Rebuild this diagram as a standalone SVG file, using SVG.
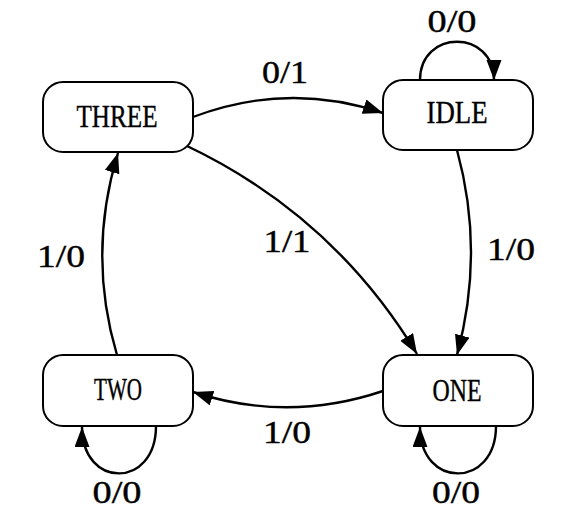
<svg xmlns="http://www.w3.org/2000/svg" width="569" height="518" viewBox="0 0 569 518">
<defs>
<style>
.node rect{fill:#fff;stroke:#000;stroke-width:2}
.edges path{fill:none;stroke:#000;stroke-width:2.4;marker-end:url(#arr)}
</style>
<marker id="arr" markerUnits="userSpaceOnUse" markerWidth="22" markerHeight="16" refX="20" refY="7.5" orient="auto">
<path d="M0,0 L20,7.5 L0,15 z" fill="#000"/>
</marker>
</defs>
<rect width="569" height="518" fill="#fff"/>
<g class="edges" id="edges">
<path d="M193,117 Q288,81 383,113"/>
<path d="M185,145 Q333,215 417,354"/>
<path d="M457,150 Q485,252 457,355"/>
<path d="M383,391 Q288,423 193,392"/>
<path d="M117,355 Q87,254 118,153"/>
<path d="M420,80 C420,29 494,29 494,80"/>
<path d="M156,426 C156,489 82,489 82,427"/>
<path d="M496,426 C496,489 420,489 420,427"/>
</g>
<g id="labels" font-family="'Liberation Serif', 'Times New Roman', serif" font-size="31" fill="#000" stroke="#000" stroke-width="0.4" text-anchor="middle">
<text x="285" y="83" textLength="46" lengthAdjust="spacingAndGlyphs">0/1</text>
<text x="287" y="252" textLength="47" lengthAdjust="spacingAndGlyphs">1/1</text>
<text x="511" y="260" textLength="48" lengthAdjust="spacingAndGlyphs">1/0</text>
<text x="61" y="267" textLength="48" lengthAdjust="spacingAndGlyphs">1/0</text>
<text x="287" y="443" textLength="48" lengthAdjust="spacingAndGlyphs">1/0</text>
<text x="452" y="32" textLength="49" lengthAdjust="spacingAndGlyphs">0/0</text>
<text x="117" y="503" textLength="49" lengthAdjust="spacingAndGlyphs">0/0</text>
<text x="456" y="503" textLength="48" lengthAdjust="spacingAndGlyphs">0/0</text>
</g>
<g font-family="'Liberation Serif', 'Times New Roman', serif" font-size="31" fill="#000" text-anchor="middle">
<g class="node" id="THREE">
<rect x="43" y="82" width="150" height="70" rx="20"/>
<text x="117" y="127" textLength="81" lengthAdjust="spacingAndGlyphs" stroke="#000" stroke-width="0.4">THREE</text>
</g>
<g class="node" id="IDLE">
<rect x="383" y="80" width="150" height="70" rx="20"/>
<text x="457" y="123" textLength="61" lengthAdjust="spacingAndGlyphs" stroke="#000" stroke-width="0.4">IDLE</text>
</g>
<g class="node" id="TWO">
<rect x="43" y="355" width="150" height="71" rx="20"/>
<text x="118" y="400" textLength="48" lengthAdjust="spacingAndGlyphs" stroke="#000" stroke-width="0.4">TWO</text>
</g>
<g class="node" id="ONE">
<rect x="383" y="355" width="150" height="71" rx="20"/>
<text x="457" y="401" textLength="49" lengthAdjust="spacingAndGlyphs" stroke="#000" stroke-width="0.4">ONE</text>
</g>
</g>
</svg>
